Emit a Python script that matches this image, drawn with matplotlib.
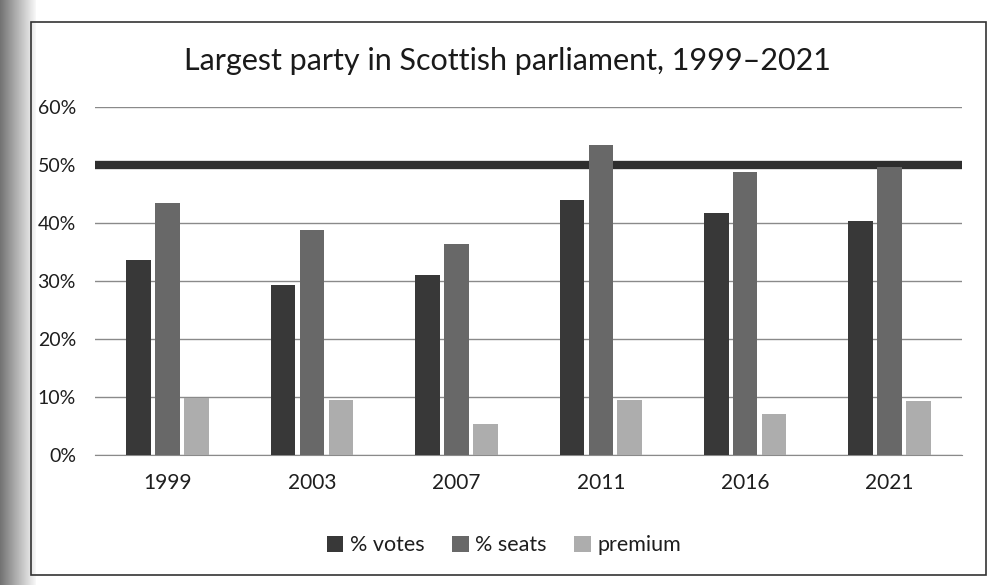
import matplotlib.pyplot as plt
import numpy as np
from matplotlib.patches import Rectangle

plt.rcParams['font.family'] = ['Lato', 'DejaVu Sans']

years = ['1999', '2003', '2007', '2011', '2016', '2021']
votes = [33.6, 29.3, 31.0, 44.0, 41.7, 40.3]
seats = [43.4, 38.8, 36.4, 53.5, 48.8, 49.6]
premium = [9.8, 9.5, 5.4, 9.5, 7.1, 9.3]
majority = 50

fig = plt.figure(figsize=(10.04, 5.85), dpi=100)

# page shadow on the left edge
bg = fig.add_axes([0, 0, 0.035, 1])
grad = np.linspace(0.45, 0.97, 64).reshape(1, -1)
bg.imshow(grad, aspect='auto', cmap='gray', vmin=0, vmax=1, extent=[0, 1, 0, 1])
bg.axis('off')

fig.patches.append(Rectangle((0.031, 0.017), 0.951, 0.945, transform=fig.transFigure,
                             fill=False, edgecolor='#333333', linewidth=1.2))

ax = fig.add_axes([0.095, 0.222, 0.863, 0.595])
x = np.arange(len(years))
w = 0.17
ax.bar(x - 0.2, votes, w, color='#383838', label='% votes', zorder=3)
ax.bar(x, seats, w, color='#686868', label='% seats', zorder=3)
ax.bar(x + 0.2, premium, w, color='#adadad', label='premium', zorder=3)

ax.axhline(majority, color='#2e2e2e', linewidth=6, zorder=2.5)

ax.set_xlim(-0.5, len(years) - 0.5)
ax.set_ylim(0, 60)
ax.set_yticks(range(0, 61, 10))
ax.set_yticklabels([f'{v}%' for v in range(0, 61, 10)])
ax.set_xticks(x)
ax.set_xticklabels(years)
ax.grid(axis='y', color='#8a8a8a', linewidth=1, zorder=0)
for s in ['top', 'right', 'left']:
    ax.spines[s].set_visible(False)
ax.spines['bottom'].set_color('#8a8a8a')
ax.tick_params(length=0, colors='#1e1e1e')
ax.tick_params(axis='x', pad=13, labelsize=15)
ax.tick_params(axis='y', pad=14, labelsize=14)

fig.text(0.505, 0.895, 'Largest party in Scottish parliament, 1999\u20132021',
         ha='center', va='center', fontsize=22, color='#1a1a1a')

fig.legend(loc='center', bbox_to_anchor=(0.502, 0.068), ncol=3, frameon=False,
           fontsize=15.5, handlelength=0.75, handleheight=0.75, handletextpad=0.3,
           columnspacing=1.3, labelcolor='#1e1e1e')

fig.savefig('out.png', dpi=100, facecolor='white')
